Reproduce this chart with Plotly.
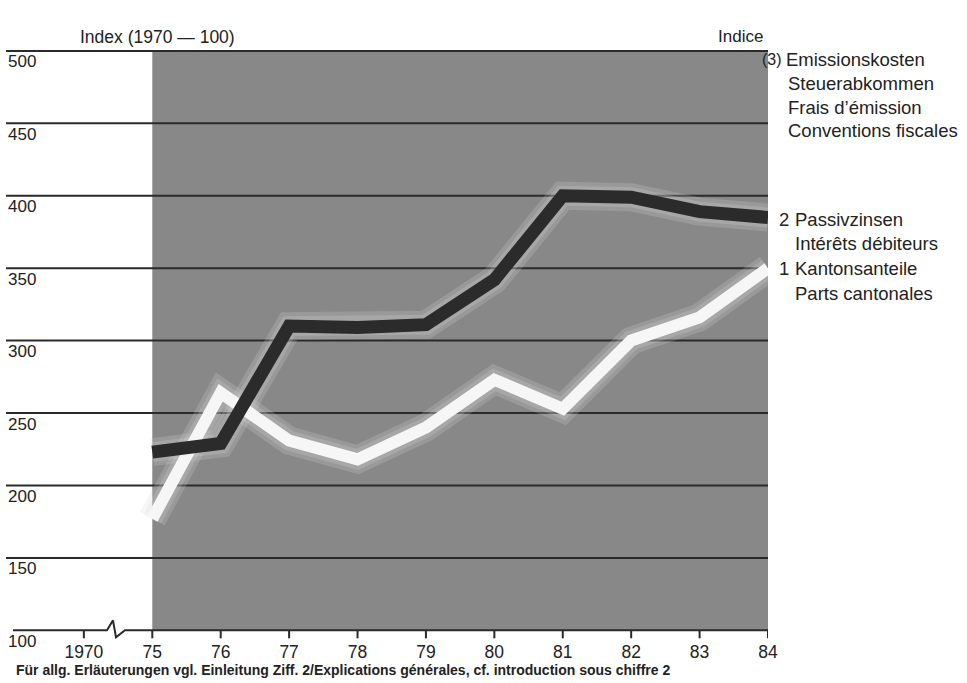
import plotly.graph_objects as go

# ---------------- data ----------------
years = [75, 76, 77, 78, 79, 80, 81, 82, 83, 84]
passivzinsen = [223, 229, 310, 309, 311, 342, 400, 399, 389, 385]      # 2
kantonsanteile = [177, 264, 231, 218, 240, 273, 253, 300, 316, 350]    # 1
emissionskosten_top = [500] * len(years)   # (3) off scale, above 500
base_index = [100] * len(years)

y_ticks = [100, 150, 200, 250, 300, 350, 400, 450, 500]
x_tick_vals = [74, 75, 76, 77, 78, 79, 80, 81, 82, 83, 84]
x_tick_text = ["1970", "75", "76", "77", "78", "79", "80", "81", "82", "83", "84"]

# ---------------- geometry helpers (layout only) ----------------
W, H = 967, 683
L, R, T, B = 0, 199, 48, 44
X0, X1 = 72.774, 84.0
Y0, Y1 = 94.0, 502.0
PW = W - L - R
PH = H - T - B
def px2x(px):
    return X0 + px / PW * (X1 - X0)
def py2paper(py):
    return (H - B - py) / PH
def px2paper(px):
    return px / PW
UY = PH / (Y1 - Y0)  # pixels per index unit

FONT = "Liberation Sans, Arial, sans-serif"
INK = "#222222"
GRID = "#2a2a2a"

fig = go.Figure()

# gray area (series 3, above the scale)
fig.add_trace(go.Scatter(x=years, y=base_index, mode="lines",
                         line=dict(width=0, color="rgba(0,0,0,0)"),
                         hoverinfo="skip", showlegend=False))
fig.add_trace(go.Scatter(x=years, y=emissionskosten_top, mode="lines",
                         line=dict(width=0, color="#888888"),
                         fill="tonexty", fillcolor="#888888",
                         hoverinfo="skip", showlegend=False))

# gridlines
gx, gy = [], []
for v in y_ticks[1:]:
    gx += [px2x(6), X1, None]
    gy += [v, v, None]
fig.add_trace(go.Scatter(x=gx, y=gy, mode="lines",
                         line=dict(width=2, color=GRID),
                         hoverinfo="skip", showlegend=False))

# bottom axis with break
brk = [px2x(13), px2x(107), px2x(113), px2x(116), px2x(125), X1]
brk_y = [100, 100, 100 + 10 / UY, 100 - 7 / UY, 100, 100]
fig.add_trace(go.Scatter(x=brk, y=brk_y, mode="lines",
                         line=dict(width=2, color=GRID),
                         hoverinfo="skip", showlegend=False))
# tick marks
tx, ty = [], []
for xv in x_tick_vals:
    tx += [xv, xv, None]
    ty += [100, 100 - 8 / UY, None]
fig.add_trace(go.Scatter(x=tx, y=ty, mode="lines",
                         line=dict(width=2, color=GRID),
                         hoverinfo="skip", showlegend=False))

# soft halos
for series in (kantonsanteile, passivzinsen):
    fig.add_trace(go.Scatter(x=years, y=series, mode="lines",
                             line=dict(width=28, color="rgba(215,215,215,0.22)"),
                             hoverinfo="skip", showlegend=False))
    fig.add_trace(go.Scatter(x=years, y=series, mode="lines",
                             line=dict(width=20, color="rgba(220,220,220,0.22)"),
                             hoverinfo="skip", showlegend=False))

# series lines
fig.add_trace(go.Scatter(x=years, y=kantonsanteile, mode="lines", name="1 Kantonsanteile",
                         line=dict(width=12, color="#f6f6f6"), showlegend=False))
fig.add_trace(go.Scatter(x=years, y=passivzinsen, mode="lines", name="2 Passivzinsen",
                         line=dict(width=13, color="#2b2b2b"), showlegend=False))

ann = []
# y labels
for v in y_ticks:
    ann.append(dict(x=px2paper(6), xref="paper", xanchor="left",
                    y=v, yref="y", yanchor="middle", yshift=-11,
                    text=str(v), showarrow=False,
                    font=dict(family=FONT, size=17, color=INK)))

def text(px, py, s, size=18.5, anchor="left"):
    ann.append(dict(x=px2paper(px), xref="paper", xanchor=anchor,
                    y=py2paper(py), yref="paper", yanchor="middle",
                    text=s, showarrow=False,
                    font=dict(family=FONT, size=size, color=INK)))

text(78, 37, "Index (1970 — 100)", size=17.5)
text(765, 37, "Indice", size=17, anchor="right")
text(784, 60, "(3)", size=16, anchor="right")
text(784, 60, "Emissionskosten")
text(786, 83, "Steuerabkommen")
text(786, 107, "Frais d’émission")
text(786, 130, "Conventions fiscales")
text(791, 220, "2", anchor="right")
text(793, 220, "Passivzinsen")
text(793, 243, "Intérêts débiteurs")
text(791, 268, "1", anchor="right")
text(793, 268, "Kantonsanteile")
text(793, 293, "Parts cantonales")
ann.append(dict(x=px2paper(14), xref="paper", xanchor="left",
                y=py2paper(670), yref="paper", yanchor="middle",
                text="<b>Für allg. Erläuterungen vgl. Einleitung Ziff. 2/Explications générales, cf. introduction sous chiffre 2</b>",
                showarrow=False, font=dict(family=FONT, size=14, color=INK)))

fig.update_layout(
    width=W, height=H,
    margin=dict(l=L, r=R, t=T, b=B, pad=0),
    paper_bgcolor="white", plot_bgcolor="white",
    showlegend=False,
    annotations=ann,
    xaxis=dict(range=[X0, X1], tickvals=x_tick_vals, ticktext=x_tick_text,
               ticks="", showgrid=False, zeroline=False, showline=False,
               tickfont=dict(family=FONT, size=17.5, color=INK), fixedrange=True),
    yaxis=dict(range=[Y0, Y1], showticklabels=False, showgrid=False,
               zeroline=False, showline=False, fixedrange=True),
)

fig.write_html("out.html",
               config={"displayModeBar": False},
               post_script="document.body.style.margin='0';document.body.style.overflow='hidden';")
